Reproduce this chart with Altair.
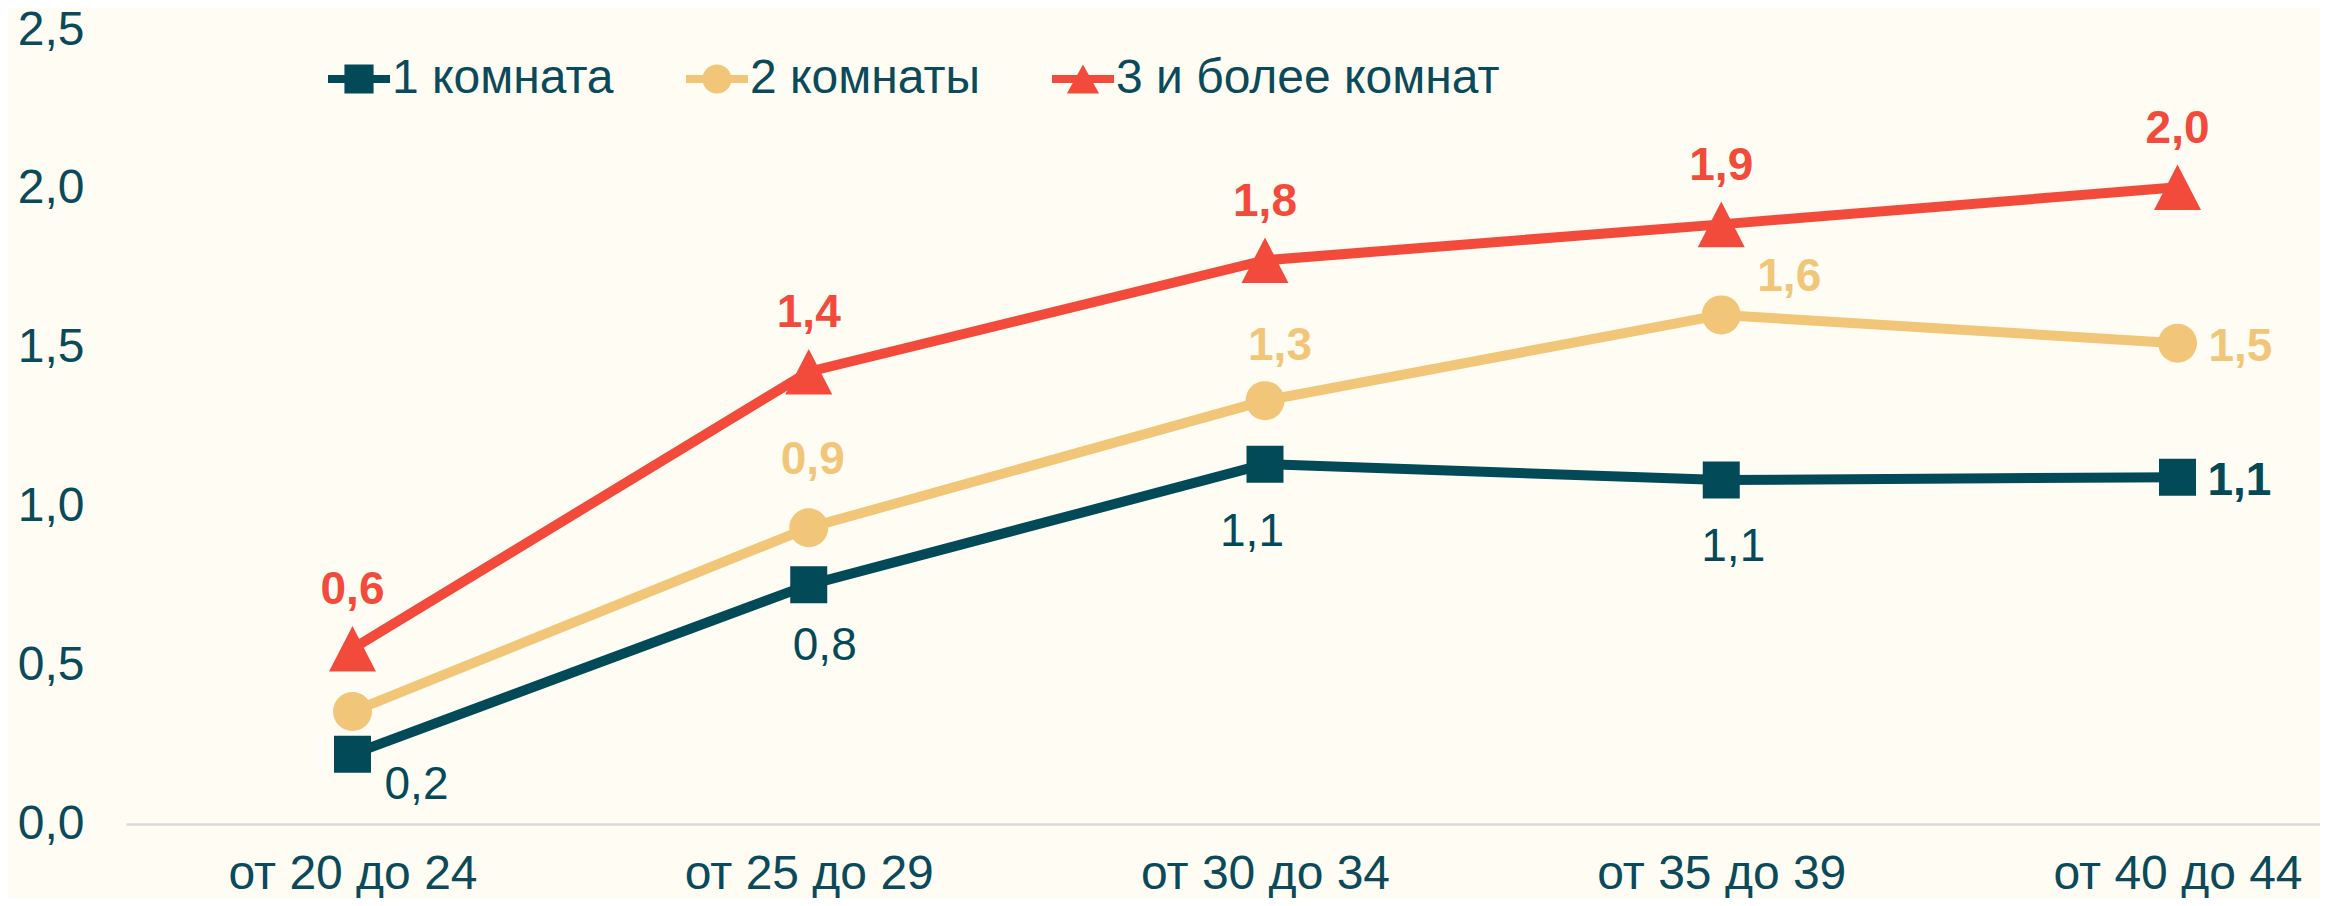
import altair as alt
import pandas as pd

# ---------------- data ----------------
categories = ["от 20 до 24", "от 25 до 29", "от 30 до 34", "от 35 до 39", "от 40 до 44"]
series_names = ["1 комната", "2 комнаты", "3 и более комнат"]
one_room = [0.220, 0.753, 1.133, 1.083, 1.092]
two_rooms = [0.354, 0.933, 1.333, 1.603, 1.514]
three_rooms = [0.552, 1.424, 1.775, 1.888, 2.005]
y_ticks = [0.0, 0.5, 1.0, 1.5, 2.0, 2.5]
# the first "2 комнаты" point carries no value label in the source
show_label = {
    "1 комната": [True, True, True, True, True],
    "2 комнаты": [False, True, True, True, True],
    "3 и более комнат": [True, True, True, True, True],
}

# ---------------- styles ----------------
COLORS = ["#034A59", "#F2C679", "#F24B3B"]
TEXT = "#0A4A5A"
BG = "#FFFDF3"
FONT = "Liberation Sans"
AXIS_FS = 48
LABEL_FS = 46

# label placement per point: (dx, cap-centre dy, align, weight)
LABEL_STYLE = {
    "1 комната": [(64, 28, "center", "normal"), (16, 58, "center", "normal"),
                  (-13, 65, "center", "normal"), (12, 64, "center", "normal"),
                  (30, 1, "left", "bold")],
    "2 комнаты": [None, (4, -70, "center", "bold"), (15, -57, "center", "bold"),
                  (68, -41, "center", "bold"), (31, 1, "left", "bold")],
    "3 и более комнат": [(0, -61, "center", "bold")] * 5,
}

TRIANGLE = "M0,-0.97L1,0.97L-1,0.97Z"
POINT_SHAPES = [("square", 1369), ("circle", 1521), (TRIANGLE, 2209)]
LEGEND_PATHS = [
    "M-1,-0.13H1V0.13H-1Z M-0.47,-0.47H0.47V0.47H-0.47Z",
    "M-1,-0.13H1V0.13H-1Z M-0.47,0A0.47,0.47 0 1,1 0.47,0A0.47,0.47 0 1,1 -0.47,0Z",
    "M-1,-0.13H1V0.13H-1Z M0,-0.47L0.52,0.47L-0.52,0.47Z",
]

# ---------------- table ----------------
rows = []
for name, vals in zip(series_names, [one_room, two_rooms, three_rooms]):
    for i, v in enumerate(vals):
        rows.append({"series": name, "i": i, "value": v,
                     "label": f"{v:.1f}".replace(".", ",")})
df = pd.DataFrame(rows)

color_scale = alt.Scale(domain=series_names, range=COLORS)
x_label_expr = "[" + ",".join(f"'{c}'" for c in categories) + "][datum.value]"

x_enc = alt.X(
    "i:Q",
    scale=alt.Scale(domain=[-0.4964, 4.3123], nice=False, zero=False),
    axis=alt.Axis(values=list(range(len(categories))), labelExpr=x_label_expr,
                  title=None, grid=False, ticks=False, tickSize=0,
                  domainColor="#D9D9D9", domainWidth=2.5,
                  labelFontSize=AXIS_FS, labelColor=TEXT, labelFont=FONT,
                  labelPadding=26, labelFlush=False, labelOverlap=False,
                  labelLimit=1000),
)
y_enc = alt.Y(
    "value:Q",
    scale=alt.Scale(domain=[0, 2.5], nice=False, zero=True),
    axis=alt.Axis(values=y_ticks,
                  labelExpr="replace(format(datum.value, '.1f'), '.', ',')",
                  title=None, grid=False, ticks=False, tickSize=0, domain=False,
                  labelFontSize=AXIS_FS, labelColor=TEXT, labelFont=FONT,
                  labelPadding=42, labelLimit=1000),
)
color_nolegend = alt.Color("series:N", scale=color_scale, legend=None)

base = alt.Chart(df)

layers = []

# legend-only layer (first, so its legend settings win when legends merge)
legend = alt.Legend(title=None, orient="none", legendX=202, legendY=18,
                    direction="horizontal", symbolSize=3844, symbolStrokeWidth=0,
                    labelFontSize=AXIS_FS, labelFont=FONT, labelColor=TEXT,
                    labelOffset=2, columnPadding=72, padding=0, symbolOpacity=1,
                    labelLimit=1000)
layers.append(
    base.transform_filter("false")
    .mark_point(filled=True, opacity=1, strokeWidth=0)
    .encode(
        x=x_enc, y=y_enc,
        color=alt.Color("series:N", scale=color_scale, legend=legend),
        shape=alt.Shape("series:N",
                        scale=alt.Scale(domain=series_names, range=LEGEND_PATHS),
                        legend=legend),
    )
)

layers.append(
    base.mark_line(strokeWidth=10, strokeJoin="round").encode(
        x=x_enc, y=y_enc, color=color_nolegend)
)
for name, (shape, size) in zip(series_names, POINT_SHAPES):
    layers.append(
        base.transform_filter(alt.datum.series == name)
        .mark_point(shape=shape, size=size, filled=True, opacity=1, strokeWidth=0)
        .encode(x=x_enc, y=y_enc, color=color_nolegend)
    )

for name in series_names:
    for i, st in enumerate(LABEL_STYLE[name]):
        if st is None or not show_label[name][i]:
            continue
        dx, dy, align, weight = st
        layers.append(
            base.transform_filter((alt.datum.series == name) & (alt.datum.i == i))
            .mark_text(dx=dx, dy=dy + 0.058 * LABEL_FS, align=align, baseline="middle",
                       fontSize=LABEL_FS, fontWeight=weight, font=FONT)
            .encode(x=x_enc, y=y_enc, text="label:N", color=color_nolegend)
        )

chart = (
    alt.layer(*layers)
    .properties(width=2194, height=794, background=BG,
                padding={"left": 118, "top": 22, "right": 0, "bottom": 74},
                autosize=alt.AutoSizeParams(type="none"))
    .configure_view(strokeWidth=0)
)

chart.save("out.html", embed_options={"renderer": "svg", "actions": False})
